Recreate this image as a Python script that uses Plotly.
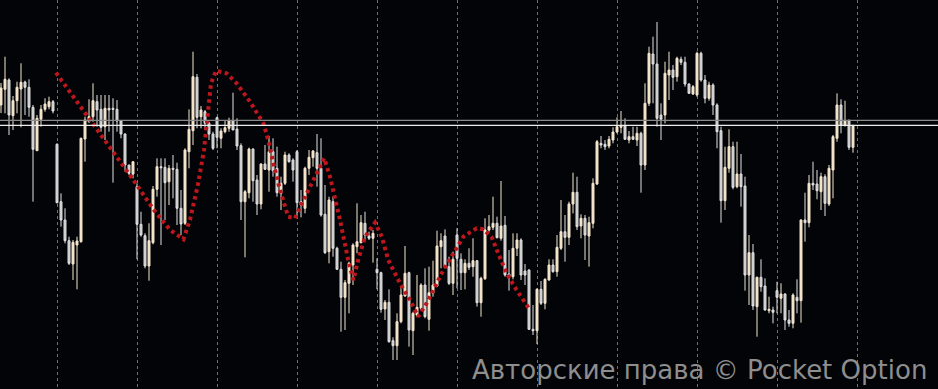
import plotly.graph_objects as go

open_ = [295,310.7,320,284.3,299.3,311,318,312.7,292.7,249.3,280.7,290.7,293.3,298.3,255.7,198.3,180,159.3,136,155,
158.3,261,278.3,283.3,298.3,290.7,273.3,291.7,291.7,290.7,279,266,235,226,213.3,175.7,164.3,134,157.3,210.7,
233.3,232.7,218.3,231.7,230.7,191.7,176.7,248.3,269.3,322.7,283.3,288.3,276.7,266,282.3,261.7,268.3,271.7,279,271,
254.3,198.3,207.3,251,220,196,236,230,248.3,231.7,206.7,216.7,245,240,248.3,198.3,191.7,231.7,242.3,247.3,
231.7,185.7,148.3,198.3,151.7,130.7,102.7,116.7,135,153.3,157.3,176.7,164,161.7,130.7,127.3,91,97.7,59.3,54.3,
78.3,104,127.3,69.3,85,91.7,115,80.7,106.7,114,153.3,164,133.3,116.7,165,140.7,127.3,136.7,133.3,139.3,
97.3,121.3,170,172.7,176.7,161.7,174.7,126,123.3,151.7,160,129,130,70.7,69.3,110.7,96.7,120,135,128.3,
151.7,168.3,162.7,196,207.7,174,181.7,164,176.7,216,256.7,255.7,254,260,268,272.7,274,260,263.3,260,
266.7,235,296.7,346,336,285,285,325,330,323.3,340.7,337.7,316,306,305,346.7,320,301.7,315,295,
269.3,199.3,231.7,253.3,213.3,226,214,125,147.3,93.3,122.7,114,89.3,90,109.3,101.7,106,80,76.7,102.7,
99.3,180,177.3,216.7,216,208.3,223.3,196,230,261.7,295,275,279.3,252.7]
high = [317,343.3,321.7,304,318.3,336.7,319.3,320.7,295,285,295,301.7,303.3,300,256.7,206.7,191.7,163.3,160,163.3,
262.3,283.3,300.7,316.7,305,305,305,305,301.7,300,280,266.7,235,238.3,216.7,188.3,166.7,176.7,214,241.7,
241.7,241.7,235,245,237.3,210,251.7,290.7,348.3,326,294,290,278.3,268.3,283.3,271.7,280,282.3,307.3,281.7,
256.7,210,252.3,251.7,225,236.7,255,264,261.7,253.3,223.3,248.3,246.7,241.7,250,210,233.3,250,250,266,
261.7,215,203.3,203.3,153.3,138.3,120,138.3,156.7,196.7,185,188.3,168.3,170,141.7,128.3,100,110.7,62.7,86.7,
113.3,154,128.3,88.3,125,116.7,131.7,133.3,139.3,169.3,166.7,170.7,143.3,148.3,171.7,146.7,140.7,151.7,161.7,140,
123.3,181.7,185,203.3,183.3,219,184,150,166.7,166.7,161.7,136,130.7,95,111.7,119,121.7,140.7,140.7,165,
200,185,198.3,227.3,223.3,185.7,185,183.3,221.7,260,264,260,264,272.7,282.7,289,281.7,269,273.3,273.3,
268.3,316.7,353.3,363.3,378,296.7,338.3,348.3,335,343.3,343.3,343.3,316.7,315,348.3,348.3,325,318.3,316.7,296.7,
273.3,253.3,270.7,258.3,258.3,246,223.3,165,156,123.3,140.7,121.7,103.3,93.3,118.3,116.7,106.7,90,106.7,120.7,
180.7,207.3,225,238.3,230,227.3,225.7,235,265,306.7,300.7,299.3,280.7,275]
low = [287,286.7,265,270,286.7,272.7,285,283.3,198.3,249.3,273.3,288.3,290.7,286.7,196.7,173.3,156.7,135,120,110.7,
157.3,238.3,277.3,278.3,273.3,268.3,260,268.3,217.3,268.3,261.7,228.3,225,221.7,140.7,163.3,131.7,119.3,155.7,203.3,
155,180,195,201.7,175,165,175,231.7,255,271.7,271.7,270,260,250,251.7,251.7,266.7,268.3,270,250,
180,142.7,201.7,198.3,185,190.7,230,208.3,223.3,203.3,190,215,237.3,218.3,184,182.7,186.7,225,233.3,213.3,
183.3,146,136.7,143.3,130,68.3,70,86.7,115,146.7,156.7,160,160,137.3,110.7,87.3,80,57.3,40,40,
76.7,103.3,53.3,45,83.3,90,81.7,69.3,103.3,113.3,131.7,131.7,115,105,111.7,110,110.7,130,123.3,93.3,
83.3,120,168.3,170,161.7,159.3,123.3,109.3,120.7,144,120,115,70,65,56,95,90.7,119.3,127.3,123.3,
150,138.3,155,186.7,170,161.7,140,133.3,171.7,215,251.7,250,251.7,256.7,266.7,266.7,260,256.7,260,254,
207.3,230,294,296.7,273.3,260,276.7,300,310,318.3,335,313.3,306,305,303.3,318.3,296.7,299.3,285,251.7,
177.3,190,227.3,210.7,211.7,193.3,109.3,95,90,63.3,108.3,89.3,86.7,76.7,86.7,86.7,70,73.3,71.7,86.7,
77.3,158.3,172.7,210,200.7,190,184,194,201.7,258.3,266.7,273.3,250,247.3]
close = [312,320.7,285,299.3,312.7,317.7,312.7,292.7,250.7,281.7,290.7,296,298.3,289,197.3,180,159.3,136.7,157.7,159,
261.7,280,283.3,299.3,290,272.7,291.7,290,290.7,279,266,235,226.7,238.3,175.7,165,134,159.3,210.7,233.3,
232.3,217.3,231.7,230.7,191.7,176,250,270.7,323.3,282.7,290,276.7,266,251.7,262.7,269,272.3,279,270,254,
198.3,208.3,251,219.3,196,236,230.7,248.3,229.3,207.3,216.7,245,238.3,230,197.3,195,231.7,242.7,249,231.7,
185,147.3,200,151.7,130.7,102.7,117.3,136.7,155,158.3,177.3,165,161.7,166.7,127.3,90.7,97.7,58.3,54.3,78.3,
105,126.7,70,86.7,92.7,115,83.3,107.3,115,154,159.3,133.3,116.7,140.7,141.7,127.3,136.7,132.7,139.3,97.3,
121.7,170,173.3,176.7,162.3,174,125,123.3,151.7,160,125,125,70.7,69.3,110.7,96.7,120.7,135,128.3,152.7,
168.3,162.7,196,207.7,173.3,181.7,165,177.3,216.7,258.3,255,253.3,260.7,268,273.3,274,260.7,263.3,260.7,266.7,
235,296.7,346.7,336,281.7,280.7,326.7,330,322.7,341.7,337.7,316,306.7,313.3,346.7,320,301.7,315,295,268.3,
199.3,232.7,253.3,212.7,226,213.3,125,147.3,94,122.7,113.3,90,90.7,87.7,102.7,106,80,76.7,105,99.3,
180,177.3,216.7,215,209.3,223.3,196.7,231.7,263.3,295,275,279.3,252.7,274.7]
candle_index = list(range(len(close)))

zigzag_x = [13.75,21.8,33.1,38.1,42.25,45.6,47.25,49.3,50.75,51.8,52.5,53.75,56.4,58.9,62.25,65.6,66.8,68.1,69.75,71.8,
73.5,75.2,78.1,80.8,82.25,84.75,86.8,88.1,89.3,91,93.5,95.2,96.8,99.75,102.25,104.3,106.4,110.6,115.6,118.9,
120.6,122.7,124.3,126.4,128.9,132.25]
zigzag_y = [327.3,283.3,220,190.7,170,160.7,180,216.7,250,290,316.7,329.3,326.7,316.7,298.3,276.7,260,236.7,210,183.3,
181.7,196.7,220,241.7,223.3,180,140,120,140,163.3,177.3,163.3,140,116.7,100,83.3,96.7,130,163.3,171.7,
170.7,162.7,146.7,126.7,110,90]

ask_level = 279.7
last_price = close[-1]
watermark = "Авторские права © Pocket Option"

fig = go.Figure()
fig.add_trace(go.Candlestick(
    x=candle_index, open=open_, high=high, low=low, close=close,
    increasing=dict(line=dict(color="#f6e7d1", width=1), fillcolor="#f5e2c6"),
    decreasing=dict(line=dict(color="#e2e2e2", width=1), fillcolor="#c2c2c2"),
    whiskerwidth=0, showlegend=False, hoverinfo="skip"))
fig.add_trace(go.Scatter(
    x=zigzag_x, y=zigzag_y, mode="lines",
    line=dict(color="#bd171d", width=4, dash="3.5px,3.5px"),
    showlegend=False, hoverinfo="skip"))

fig.add_hline(y=ask_level, line=dict(color="#8a8a8a", width=1.3))
fig.add_hline(y=last_price, line=dict(color="#ececec", width=1.3))

fig.add_annotation(
    text=watermark, xref="paper", yref="paper",
    x=929/938, y=1-370/389, xanchor="right", yanchor="middle",
    showarrow=False, font=dict(family="DejaVu Sans", size=26, color="#8e8e8e"))

fig.update_layout(
    width=938, height=389, margin=dict(l=0, r=0, t=0, b=0),
    paper_bgcolor="#030407", plot_bgcolor="#030407",
    xaxis=dict(range=[-0.25, 234.25], rangeslider=dict(visible=False),
               showgrid=True, gridcolor="#707070", gridwidth=1, griddash="3px,3px",
               tick0=14.125, dtick=20, showticklabels=False, zeroline=False, ticks=""),
    yaxis=dict(range=[11, 400], showgrid=False, showticklabels=False, zeroline=False, ticks=""),
)

fig.write_html("out.html")
